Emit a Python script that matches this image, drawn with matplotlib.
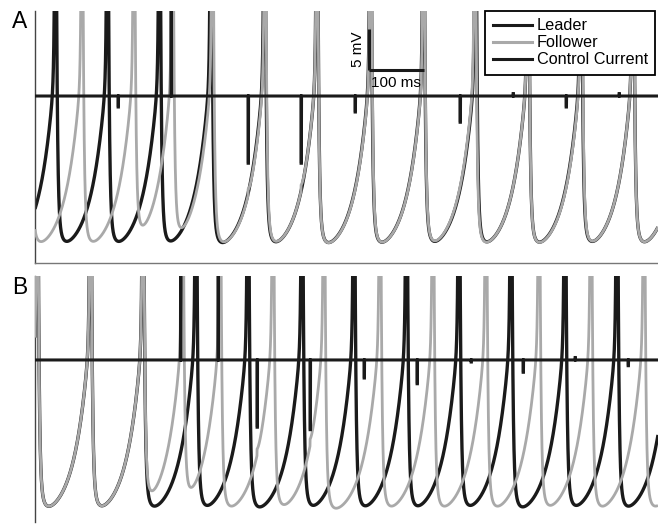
import numpy as np
import matplotlib
matplotlib.use("Agg")
import matplotlib.pyplot as plt
from matplotlib.lines import Line2D

plt.rcParams['font.family'] = ['Liberation Sans', 'DejaVu Sans']

# ---- spike times (ms) ----
leader_spikes_a = [-57.8, 37.3, 131.8, 226.4, 320.0, 417.3, 512.7, 610.0,
                   706.4, 800.9, 896.4, 992.7, 1087.3, 1182.7]
follower_spikes_a = [-9.6, 85.5, 180.0, 250.0, 322.7, 418.2, 512.7, 610.4,
                     706.7, 800.0, 896.4, 993.3, 1087.3, 1182.7]
leader_spikes_b = [-92.7, 4.2, 100.9, 196.4, 292.7, 387.3, 485.5, 580.0,
                   675.5, 770.9, 865.5, 963.6, 1058.2, 1154.5]
follower_spikes_b = [-92.7, 4.2, 100.9, 196.4, 268.2, 336.4, 432.7, 525.5,
                     627.3, 723.6, 820.0, 916.4, 1010.9, 1107.3, 1203.6]

# ---- control current pulses: onset (ms) and amplitude ----
pulse_times_a = [150.9, 247.3, 387.3, 483.6, 581.8, 772.7, 869.1, 965.5, 1061.8]
pulse_amps_a = [-1.34, 12.0, -8.2, -8.2, -1.95, -3.2, 0.3, -1.34, 0.3]
pulse_times_b = [264.5, 332.7, 403.6, 500.0, 598.2, 694.5, 792.7, 887.3, 981.8, 1078.2]
pulse_amps_b = [12.0, 12.0, -8.2, -8.5, -2.2, -2.9, -0.25, -1.5, 0.3, -0.7]

# ---- waveform model constants ----
V_FLOOR = -19.5
RISE_AMP, RISE_TAU = 24.0, 26.0
SPIKE_AMP, SPIKE_TAU = 60.0, 1.2
FAST_AMP, FAST_TAU = 70.0, 2.0
SLOW_AMP, SLOW_TAU = 7.0, 7.0
PULSE_W = 0.8
KINK_GAIN, KINK_TAU = 0.1, 3.0

T_MAX = 1132.7
t = np.arange(0.0, T_MAX, 0.05)

LEADER_C = '#1a1a1a'
FOLLOWER_C = '#a9a9a9'


def membrane(spikes, pulse_t=None, pulse_a=None):
    v = np.full_like(t, np.nan)
    for t0, t1 in zip(spikes[:-1], spikes[1:]):
        m = (t >= t0) & (t < t1)
        s = t[m] - t0
        r = t1 - t[m]
        v[m] = (V_FLOOR + RISE_AMP * np.exp(-r / RISE_TAU)
                + SPIKE_AMP * np.exp(-r / SPIKE_TAU)
                + FAST_AMP * np.exp(-s / FAST_TAU)
                + SLOW_AMP * np.exp(-s / SLOW_TAU))
    if pulse_t is not None:
        for tp, a in zip(pulse_t, pulse_a):
            if a < -5:
                m = t >= tp
                v[m] += KINK_GAIN * abs(a) * np.exp(-(t[m] - tp) / KINK_TAU)
    return v


def control(pulse_t, pulse_a):
    c = np.zeros_like(t)
    for tp, a in zip(pulse_t, pulse_a):
        c[(t >= tp) & (t < tp + PULSE_W)] = a
    return c


fig = plt.figure(figsize=(6.58, 5.24), dpi=100)
W, H = 658.0, 524.0
ax_a = fig.add_axes([35 / W, 1 - 263 / H, 623 / W, 252 / H])
ax_b = fig.add_axes([35 / W, 1 - 522 / H, 623 / W, 246 / H])

panels = [
    (ax_a, leader_spikes_a, follower_spikes_a, pulse_times_a, pulse_amps_a,
     (-20.37, 10.37), 'A'),
    (ax_b, leader_spikes_b, follower_spikes_b, pulse_times_b, pulse_amps_b,
     (-19.76, 10.24), 'B'),
]

for ax, ls, fs, pt, pa, ylim, lab in panels:
    ax.plot(t, membrane(ls), color=LEADER_C, lw=2.4, zorder=2,
            solid_capstyle='butt')
    ax.plot(t, membrane(fs, pt, pa), color=FOLLOWER_C, lw=2.0, zorder=3,
            solid_capstyle='butt')
    ax.plot(t, control(pt, pa), color=LEADER_C, lw=2.2, zorder=4,
            solid_joinstyle='miter')
    ax.set_xlim(0, T_MAX)
    ax.set_ylim(*ylim)
    ax.set_xticks([])
    ax.set_yticks([])
    for sp in ('top', 'right'):
        ax.spines[sp].set_visible(False)
    ax.spines['left'].set_color('#444444')
    ax.spines['left'].set_linewidth(1.0)
    ax.spines['bottom'].set_color('#777777')
    ax.spines['bottom'].set_linewidth(1.0)
    ax.patch.set_alpha(0)

ax_b.spines['bottom'].set_visible(False)

fig.text(20 / W, 1 - 21 / H, 'A', fontsize=16.5, ha='center', va='center')
fig.text(20 / W, 1 - 287 / H, 'B', fontsize=16.5, ha='center', va='center')

# scale bar
sb_t, sb_v = 607.0, 3.17
ax_a.plot([sb_t, sb_t], [sb_v, sb_v + 5], color=LEADER_C, lw=2.2,
          solid_capstyle='butt', zorder=5)
ax_a.plot([sb_t, sb_t + 100], [sb_v, sb_v], color=LEADER_C, lw=2.2,
          solid_capstyle='butt', zorder=5)
ax_a.text(sb_t - 20, sb_v + 2.5, '5 mV', rotation=90, fontsize=11,
          ha='center', va='center')
ax_a.text(sb_t + 3, sb_v - 1.55, '100 ms', fontsize=11, ha='left', va='center')

handles = [Line2D([], [], color=LEADER_C, lw=2.2),
           Line2D([], [], color=FOLLOWER_C, lw=2.2),
           Line2D([], [], color=LEADER_C, lw=2.2)]
leg = ax_a.legend(handles, ['Leader', 'Follower', 'Control Current'],
                  loc='upper right', bbox_to_anchor=(0.9952, 1.0),
                  borderaxespad=0, fontsize=11.7, handlelength=2.4,
                  handletextpad=0.3, labelspacing=0.12, borderpad=0.45,
                  fancybox=False, framealpha=1)
leg.get_frame().set_edgecolor('black')
leg.get_frame().set_linewidth(1.3)
leg.set_zorder(10)

fig.savefig('out.png', dpi=100)
